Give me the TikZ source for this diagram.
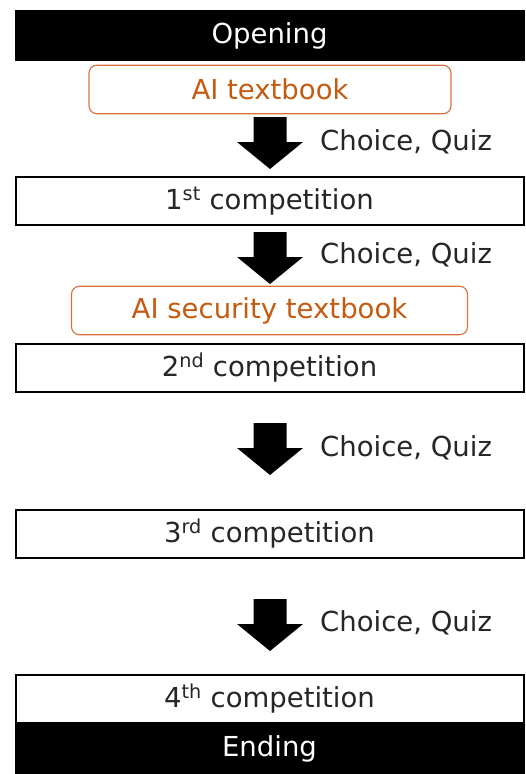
\documentclass[tikz,border=0pt]{standalone}
\usepackage{fontspec}
\setmainfont{DejaVu Sans}
\definecolor{txorange}{HTML}{C55A11}
\definecolor{bdorange}{HTML}{D9703F}
\definecolor{txgray}{HTML}{262626}
\begin{document}
\begin{tikzpicture}[x=1pt,y=-1pt,
  every node/.style={font=\fontsize{27.5}{30}\selectfont, inner sep=0pt},
  blackbar/.style={fill=black, text=white, minimum width=510pt, minimum height=51pt},
  compbox/.style={draw=black, line width=2pt, fill=white, text=txgray, minimum width=508pt, minimum height=48.5pt},
  bookbox/.style={draw=bdorange, line width=1.1pt, rounded corners=8pt, text=txorange, minimum height=48.5pt},
  quiz/.style={anchor=west, text=txgray},
  blockarrow/.style={fill=black}
]
\useasboundingbox (0,0) rectangle (526,774);
\node[blackbar] (open) at (269.5,35.5) {Opening};
\node[bookbox, minimum width=362pt] (book1) at (270,89.5) {AI textbook};
\node[compbox] (c1) at (269.5,201) {1\textsuperscript{st} competition};
\node[bookbox, minimum width=396pt] (book2) at (269.5,310.5) {AI security textbook};
\node[compbox] (c2) at (269.5,368) {2\textsuperscript{nd} competition};
\node[compbox] (c3) at (269.5,534) {3\textsuperscript{rd} competition};
\node[compbox] (c4) at (269.5,699) {4\textsuperscript{th} competition};
\node[blackbar, minimum height=50pt] (end) at (269.5,749) {Ending};
% block arrows
\coordinate (a1) at (270,117);
\coordinate (a2) at (270,232);
\coordinate (a3) at (270,423);
\coordinate (a4) at (270,599);
\foreach \a in {a1,a2,a3,a4}{
  \fill[blockarrow] (\a) ++(-16.5,0) -- ++(33,0) -- ++(0,25) -- ++(16.5,0) -- ++(-33,27) -- ++(-33,-27) -- ++(16.5,0) -- cycle;
}
\node[quiz] (q1) at (320,142) {Choice, Quiz};
\node[quiz] (q2) at (320,255) {Choice, Quiz};
\node[quiz] (q3) at (320,448) {Choice, Quiz};
\node[quiz] (q4) at (320,623) {Choice, Quiz};
\end{tikzpicture}
\end{document}
